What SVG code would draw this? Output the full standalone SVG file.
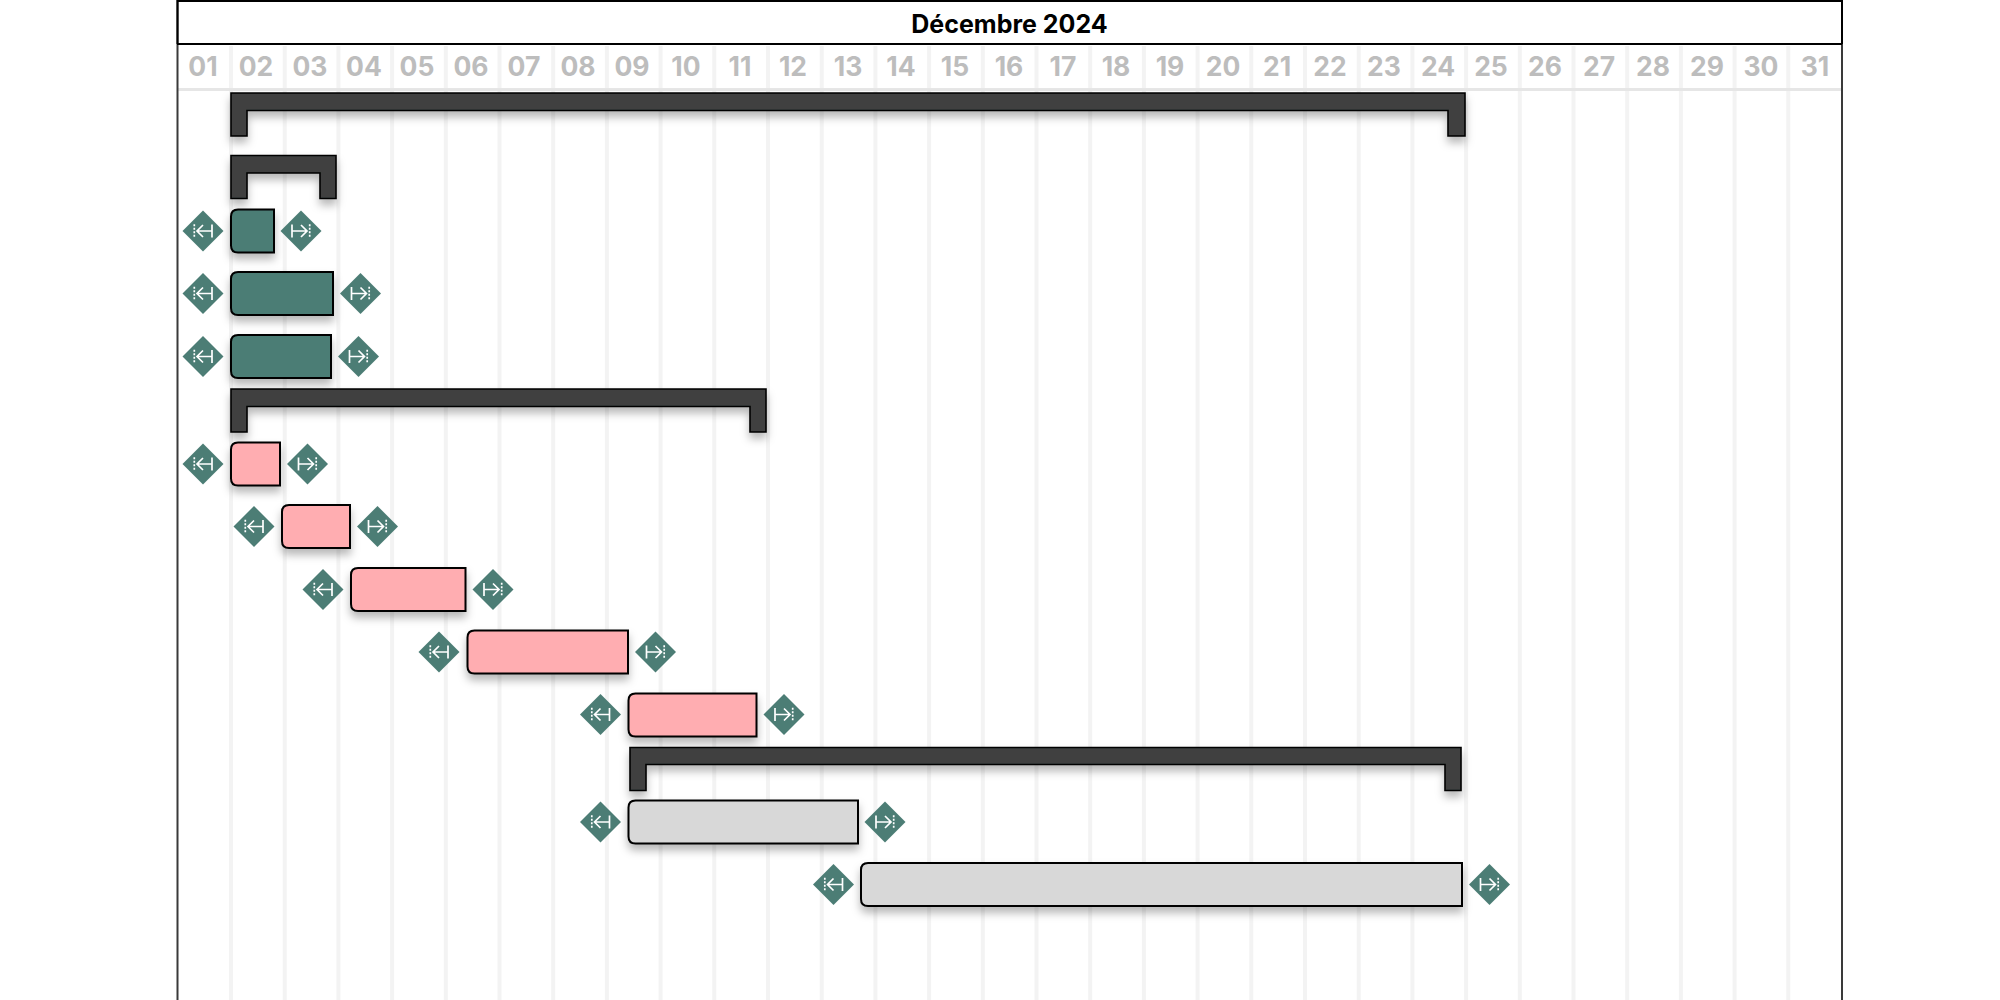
<svg xmlns="http://www.w3.org/2000/svg" xmlns:xlink="http://www.w3.org/1999/xlink" width="2000" height="1000" viewBox="0 0 2000 1000">
<style>
text{font-family:Inter,"Liberation Sans",sans-serif;text-anchor:middle}
.title{font-size:25px;font-weight:700;fill:#000}
.day{font-size:26.500px;font-weight:700;fill:#bdbdbd}
.grid{stroke:#f3f3f3;stroke-width:4;fill:none}
.bar{stroke:#000;stroke-width:2;filter:url(#sh)}
.group{fill:#3f4140;stroke:#000;stroke-width:1.600;filter:url(#sh)}
.teal{fill:#4c7d75}.pink{fill:#ffadb1}.grey{fill:#d8d8d8}
.ic{stroke:#fff;stroke-width:1.700;fill:none}
.dash{stroke:#fff;stroke-width:1.700;stroke-dasharray:2 1.500;fill:none}
</style>
<defs>
<filter id="sh" x="-20%" y="-30%" width="140%" height="170%"><feDropShadow dx="0" dy="6" stdDeviation="4" flood-color="#000" flood-opacity="0.28"/></filter>
<g id="ms"><path d="M0-20.500L20.500 0L0 20.500L-20.500 0Z" fill="#4c7d75"/><path class="dash" d="M-8.700-6.700V6.700"/><path class="ic" d="M9-6.500V6.500M9 0H-6M0-6L-6 0L0 6"/></g>
<g id="me"><path d="M0-20.500L20.500 0L0 20.500L-20.500 0Z" fill="#4c7d75"/><path class="dash" d="M8.700-6.700V6.700"/><path class="ic" d="M-9-6.500V6.500M-9 0H6M0-6L6 0L0 6"/></g>
</defs>
<rect width="2000" height="1000" fill="#fff"/>
<g id="grid">
<path class="grid" d="M231 46V1000M284.700 46V1000M338.400 46V1000M392.100 46V1000M445.800 46V1000M499.500 46V1000M553.200 46V1000M606.900 46V1000M660.600 46V1000M714.300 46V1000M768 46V1000M821.700 46V1000M875.400 46V1000M929.100 46V1000M982.800 46V1000M1036.500 46V1000M1090.200 46V1000M1143.900 46V1000M1197.600 46V1000M1251.300 46V1000M1305 46V1000M1358.700 46V1000M1412.400 46V1000M1466.100 46V1000M1519.800 46V1000M1573.500 46V1000M1627.200 46V1000M1680.900 46V1000M1734.600 46V1000M1788.300 46V1000"/>
<path d="M177 89.500H1842" stroke="#e6e6e6" stroke-width="3"/>
</g>
<g id="header">
<path d="M177.500 1000V1H1842V1000" fill="none" stroke="#3a3a3a" stroke-width="2"/>
<path d="M177.500 44V1H1842V44M177 44H1842" fill="none" stroke="#000" stroke-width="2"/>
<text class="title" x="1009.500" y="32.500">Décembre 2024</text>
<g class="days">
<text class="day" x="203" y="76">01</text><text class="day" x="256" y="76">02</text><text class="day" x="310" y="76">03</text><text class="day" x="364" y="76">04</text><text class="day" x="417" y="76">05</text><text class="day" x="471" y="76">06</text><text class="day" x="524" y="76">07</text><text class="day" x="578" y="76">08</text><text class="day" x="632" y="76">09</text><text class="day" x="686" y="76">10</text><text class="day" x="740" y="76">11</text><text class="day" x="793" y="76">12</text><text class="day" x="848" y="76">13</text><text class="day" x="901" y="76">14</text><text class="day" x="955" y="76">15</text><text class="day" x="1009" y="76">16</text><text class="day" x="1063" y="76">17</text><text class="day" x="1116" y="76">18</text><text class="day" x="1170" y="76">19</text><text class="day" x="1223" y="76">20</text><text class="day" x="1277" y="76">21</text><text class="day" x="1330" y="76">22</text><text class="day" x="1384" y="76">23</text><text class="day" x="1438" y="76">24</text><text class="day" x="1491" y="76">25</text><text class="day" x="1545" y="76">26</text><text class="day" x="1599" y="76">27</text><text class="day" x="1653" y="76">28</text><text class="day" x="1707" y="76">29</text><text class="day" x="1761" y="76">30</text><text class="day" x="1815" y="76">31</text>
</g>
</g>
<g id="group-1"><path class="group" d="M231 93H1465V136H1448V110.500H247V136H231Z"/></g>
<g id="group-2"><path class="group" d="M231 155.500H336V198.500H320V173H247V198.500H231Z"/></g>
<g id="task-1"><path class="bar teal" d="M238 209.500H274V252.500H238Q231 252.500 231 245.500V216.500Q231 209.500 238 209.500Z"/><use xlink:href="#ms" x="203" y="231"/><use xlink:href="#me" x="301" y="231"/></g>
<g id="task-2"><path class="bar teal" d="M238 272H333V315H238Q231 315 231 308V279Q231 272 238 272Z"/><use xlink:href="#ms" x="203" y="293.500"/><use xlink:href="#me" x="360.500" y="293.500"/></g>
<g id="task-3"><path class="bar teal" d="M238 335H331V378H238Q231 378 231 371V342Q231 335 238 335Z"/><use xlink:href="#ms" x="203" y="356.500"/><use xlink:href="#me" x="358.500" y="356.500"/></g>
<g id="group-3"><path class="group" d="M231 389H766V432H750V406.500H247V432H231Z"/></g>
<g id="task-4"><path class="bar pink" d="M238 442.500H280V485.500H238Q231 485.500 231 478.500V449.500Q231 442.500 238 442.500Z"/><use xlink:href="#ms" x="203" y="464"/><use xlink:href="#me" x="307.500" y="464"/></g>
<g id="task-5"><path class="bar pink" d="M289 505H350V548H289Q282 548 282 541V512Q282 505 289 505Z"/><use xlink:href="#ms" x="254" y="526.500"/><use xlink:href="#me" x="377.500" y="526.500"/></g>
<g id="task-6"><path class="bar pink" d="M358 568H465.500V611H358Q351 611 351 604V575Q351 568 358 568Z"/><use xlink:href="#ms" x="323" y="589.500"/><use xlink:href="#me" x="493" y="589.500"/></g>
<g id="task-7"><path class="bar pink" d="M474.500 630.500H628V673.500H474.500Q467.500 673.500 467.500 666.500V637.500Q467.500 630.500 474.500 630.500Z"/><use xlink:href="#ms" x="439" y="652"/><use xlink:href="#me" x="655.500" y="652"/></g>
<g id="task-8"><path class="bar pink" d="M635.500 693.500H756.500V736.500H635.500Q628.500 736.500 628.500 729.500V700.500Q628.500 693.500 635.500 693.500Z"/><use xlink:href="#ms" x="600.500" y="714.500"/><use xlink:href="#me" x="784" y="714.500"/></g>
<g id="group-4"><path class="group" d="M630 747.500H1461V790.500H1445V764.500H646V790.500H630Z"/></g>
<g id="task-9"><path class="bar grey" d="M635.500 800.500H858V843.500H635.500Q628.500 843.500 628.500 836.500V807.500Q628.500 800.500 635.500 800.500Z"/><use xlink:href="#ms" x="600.500" y="822"/><use xlink:href="#me" x="885" y="822"/></g>
<g id="task-10"><path class="bar grey" d="M868 863H1462V906H868Q861 906 861 899V870Q861 863 868 863Z"/><use xlink:href="#ms" x="833.500" y="884.500"/><use xlink:href="#me" x="1489.500" y="884.500"/></g>
</svg>
